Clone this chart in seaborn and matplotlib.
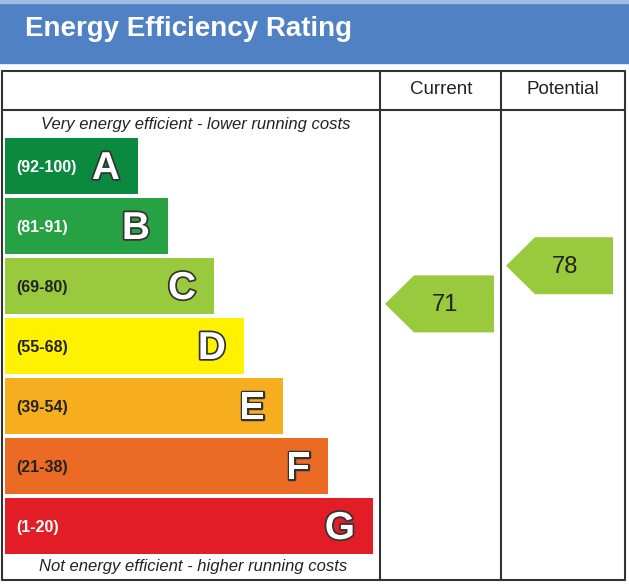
import numpy as np
import pandas as pd
import seaborn as sns
import matplotlib.pyplot as plt
from matplotlib.patches import Polygon, Rectangle
import matplotlib.patheffects as pe

# ratings data
bands = ['A', 'B', 'C', 'D', 'E', 'F', 'G']
ranges = ['(92-100)', '(81-91)', '(69-80)', '(55-68)', '(39-54)', '(21-38)', '(1-20)']
lows = [92, 81, 69, 55, 39, 21, 1]
highs = [100, 91, 80, 68, 54, 38, 20]
bar_len = [133, 163, 209, 239, 278, 323, 368]
colors = ['#0b8a3f', '#26a144', '#99c93d', '#fff200', '#f6ad1e', '#eb6b24', '#e21d26']
label_colors = ['white', 'white', '#222222', '#222222', '#222222', '#222222', 'white']
current = 71
potential = 78

sns.set_style('white')
plt.rcParams['font.family'] = ['Liberation Sans', 'DejaVu Sans']

W, H = 629, 584
fig = plt.figure(figsize=(W / 100, H / 100), dpi=100)
ax = fig.add_axes([0, 0, 1, 1])

df = pd.DataFrame({'band': bands, 'length': bar_len})
sns.barplot(data=df, x='length', y='band', hue='band', palette=colors,
            legend=False, width=0.93, saturation=1, orient='h', ax=ax, linewidth=0)

# pixel -> data helpers (bands are 60px apart, band A centred at 166px)
def X(px):
    return px - 5

def Y(py):
    return (py - 166) / 60.0

ax.set_xlim(X(0), X(W))
ax.set_ylim(Y(H), Y(0))
ax.set_axis_off()

# header band
ax.add_patch(Rectangle((X(0), Y(0)), W, Y(63) - Y(0), color='#4f81c4', zorder=0))
ax.add_patch(Rectangle((X(0), Y(0)), W, Y(3) - Y(0), color='#9fbde3', zorder=0))
ax.text(X(25), Y(29), 'Energy Efficiency Rating', color='white', fontsize=20,
        fontweight='bold', va='center', ha='left')

# table lines
lc = '#333333'
lw = 1.5
for yy in [71, 110, 580]:
    ax.plot([X(2), X(625)], [Y(yy), Y(yy)], color=lc, lw=lw)
for xx in [2, 380, 501, 625]:
    ax.plot([X(xx), X(xx)], [Y(71), Y(580)], color=lc, lw=lw)

ax.text(X(441), Y(90), 'Current', fontsize=13.5, ha='center', va='center', color='#222222')
ax.text(X(563), Y(90), 'Potential', fontsize=13.5, ha='center', va='center', color='#222222')

ax.text(X(196), Y(124), 'Very energy efficient - lower running costs', fontsize=12,
        style='italic', ha='center', va='center', color='#222222')
ax.text(X(193), Y(567), 'Not energy efficient - higher running costs', fontsize=12,
        style='italic', ha='center', va='center', color='#222222')

# band labels
for i, (b, r) in enumerate(zip(bands, ranges)):
    ax.text(X(16), i + 0.03, r, fontsize=11.5, fontweight='bold', color=label_colors[i],
            ha='left', va='center')
    ax.text(bar_len[i] - 18, i + 0.05, b, fontsize=28, fontweight='bold', color='white',
            ha='right', va='center',
            path_effects=[pe.withStroke(linewidth=2.5, foreground='#333333')])


def band_of(v):
    for i in range(len(bands)):
        if lows[i] <= v <= highs[i]:
            return i
    return len(bands) - 1


def draw_arrow(v, left_px, right_px):
    i = band_of(v)
    frac = (v - lows[i]) / (highs[i] - lows[i])
    yc = i + (0.5 - frac) - 0.02
    h = 57 / 60.0 / 2
    tip = X(left_px + 5)
    notch = X(left_px + 34)
    end = X(right_px - 7)
    pts = [(tip, yc), (notch, yc - h), (end, yc - h), (end, yc + h), (notch, yc + h)]
    ax.add_patch(Polygon(pts, closed=True, facecolor=colors[i], edgecolor='none'))
    ax.text((notch + end) / 2 - 9, yc + 0.02, str(v), fontsize=17, ha='center',
            va='center', color='#222222')


draw_arrow(current, 380, 501)
draw_arrow(potential, 501, 620)

fig.savefig('out.png', dpi=100)
